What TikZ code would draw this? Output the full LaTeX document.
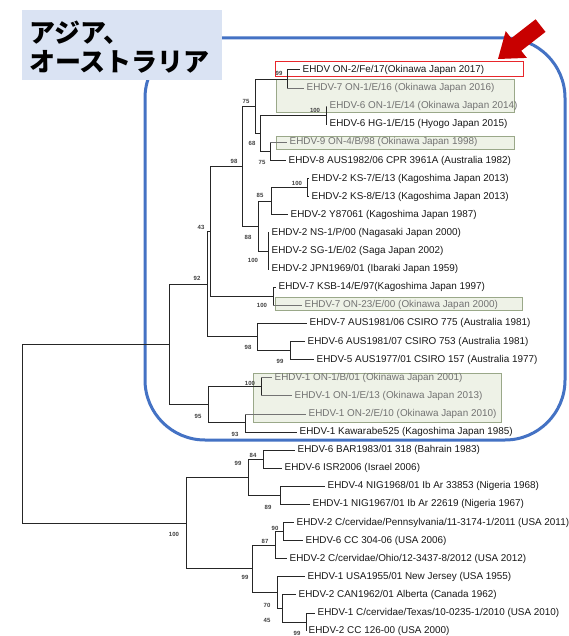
\documentclass[tikz,border=0pt]{standalone}
\usepackage{fontspec}
\setmainfont{Liberation Sans}
\newfontfamily\cjk{Noto Sans CJK JP}
\definecolor{bluel}{HTML}{4472C4}
\definecolor{lblue}{HTML}{DAE3F3}
\definecolor{gfill}{HTML}{EEF2E7}
\definecolor{gdraw}{HTML}{9AA889}
\definecolor{redbox}{HTML}{E8262B}
\definecolor{redarrow}{HTML}{C80000}
\begin{document}
\begin{tikzpicture}[x=1pt,y=-1pt,
  br/.style={draw=black!85, line width=1pt},
  brg/.style={draw=black!55, line width=0.7pt},
  leaf/.style={anchor=west, inner xsep=2.5pt, inner ysep=0pt, font=\fontsize{9.9}{10}\selectfont, text=black!90},
  leafg/.style={leaf, text=black!55},
  bs/.style={font=\fontsize{6}{6}\selectfont\bfseries, text=black!75, inner sep=0pt},
  gbox/.style={fill=gfill, draw=gdraw, line width=0.6pt},
  jp/.style={font=\cjk\bfseries\fontsize{26}{28}\selectfont, anchor=west, inner sep=0pt}]
\useasboundingbox (0,0) rectangle (569,636);
\fill[white] (0,0) rectangle (569,636);
% blue region
\draw[bluel, line width=3pt, rounded corners=60pt] (145,38) rectangle (565,440);
% title box
\fill[lblue] (22,10) rectangle (222,80);
\node[jp] (t1) at (29,33) {アジア、};
\node[jp] (t2) at (29,62) {オーストラリア};
% highlight boxes
\draw[gbox] (276,79) rectangle (514,112);
\draw[gbox] (276,136) rectangle (514,149);
\draw[gbox] (275,297) rectangle (522,310);
\draw[gbox] (253,373) rectangle (501,422);
\draw[redbox, line width=0.8pt] (275,61) rectangle (523,76);
% leaves
\node[leaf] (l0) at (300,70.0) {EHDV ON-2/Fe/17(Okinawa Japan 2017)};
\node[leafg] (l1) at (304,88.1) {EHDV-7 ON-1/E/16 (Okinawa Japan 2016)};
\node[leafg] (l2) at (327,106.2) {EHDV-6 ON-1/E/14 (Okinawa Japan 2014)};
\node[leaf] (l3) at (327,124.3) {EHDV-6 HG-1/E/15 (Hyogo Japan 2015)};
\node[leafg] (l4) at (287,142.4) {EHDV-9 ON-4/B/98 (Okinawa Japan 1998)};
\node[leaf] (l5) at (286,160.5) {EHDV-8 AUS1982/06 CPR 3961A (Australia 1982)};
\node[leaf] (l6) at (309,178.6) {EHDV-2 KS-7/E/13 (Kagoshima Japan 2013)};
\node[leaf] (l7) at (309,196.7) {EHDV-2 KS-8/E/13 (Kagoshima Japan 2013)};
\node[leaf] (l8) at (288,214.8) {EHDV-2 Y87061 (Kagoshima Japan 1987)};
\node[leaf] (l9) at (269,232.9) {EHDV-2 NS-1/P/00 (Nagasaki Japan 2000)};
\node[leaf] (l10) at (269,251.0) {EHDV-2 SG-1/E/02 (Saga Japan 2002)};
\node[leaf] (l11) at (269,269.1) {EHDV-2 JPN1969/01 (Ibaraki Japan 1959)};
\node[leaf] (l12) at (276,287.2) {EHDV-7 KSB-14/E/97(Kagoshima Japan 1997)};
\node[leafg] (l13) at (302,305.3) {EHDV-7 ON-23/E/00 (Okinawa Japan 2000)};
\node[leaf] (l14) at (307,323.4) {EHDV-7 AUS1981/06 CSIRO 775 (Australia 1981)};
\node[leaf] (l15) at (305,341.5) {EHDV-6 AUS1981/07 CSIRO 753 (Australia 1981)};
\node[leaf] (l16) at (314,359.6) {EHDV-5 AUS1977/01 CSIRO 157 (Australia 1977)};
\node[leafg] (l17) at (272,377.7) {EHDV-1 ON-1/B/01 (Okinawa Japan 2001)};
\node[leafg] (l18) at (292,395.8) {EHDV-1 ON-1/E/13 (Okinawa Japan 2013)};
\node[leafg] (l19) at (306,413.9) {EHDV-1 ON-2/E/10 (Okinawa Japan 2010)};
\node[leaf] (l20) at (297,432.0) {EHDV-1 Kawarabe525 (Kagoshima Japan 1985)};
\node[leaf] (l21) at (295,450.1) {EHDV-6 BAR1983/01 318 (Bahrain 1983)};
\node[leaf] (l22) at (282,468.2) {EHDV-6 ISR2006 (Israel 2006)};
\node[leaf] (l23) at (325,486.3) {EHDV-4 NIG1968/01 Ib Ar 33853 (Nigeria 1968)};
\node[leaf] (l24) at (310,504.4) {EHDV-1 NIG1967/01 Ib Ar 22619 (Nigeria 1967)};
\node[leaf] (l25) at (294,522.5) {EHDV-2 C/cervidae/Pennsylvania/11-3174-1/2011 (USA 2011)};
\node[leaf] (l26) at (303,540.6) {EHDV-6 CC 304-06 (USA 2006)};
\node[leaf] (l27) at (287,558.7) {EHDV-2 C/cervidae/Ohio/12-3437-8/2012 (USA 2012)};
\node[leaf] (l28) at (305,576.8) {EHDV-1 USA1955/01 New Jersey (USA 1955)};
\node[leaf] (l29) at (296,594.9) {EHDV-2 CAN1962/01 Alberta (Canada 1962)};
\node[leaf] (l30) at (315,613.0) {EHDV-1 C/cervidae/Texas/10-0235-1/2010 (USA 2010)};
\node[leaf] (l31) at (306,631.1) {EHDV-2 CC 126-00 (USA 2000)};
% internal nodes
\coordinate (A) at (287,79.05);
\coordinate (B) at (326,115.25);
\coordinate (C) at (270,151.45);
\coordinate (D) at (260,133.35);
\coordinate (E) at (255,106.2);
\coordinate (F) at (307,187.65);
\coordinate (G) at (271,201.2);
\coordinate (H) at (268,251.0);
\coordinate (I) at (258,226.1);
\coordinate (J) at (242,166.15);
\coordinate (K) at (273,296.25);
\coordinate (L) at (210,231.2);
\coordinate (M) at (290,350.55);
\coordinate (N) at (257,336.97);
\coordinate (O) at (207,284.1);
\coordinate (P) at (261,386.75);
\coordinate (Q) at (245,422.95);
\coordinate (R) at (208,404.85);
\coordinate (S) at (169,344.5);
\coordinate (T) at (263,459.15);
\coordinate (U) at (280,495.35);
\coordinate (V) at (248,477.25);
\coordinate (W) at (283,531.55);
\coordinate (X) at (275,545.1);
\coordinate (Y) at (306,622.05);
\coordinate (Z) at (282,608.5);
\coordinate (AA) at (277,592.65);
\coordinate (AB) at (252,568.9);
\coordinate (AC) at (186,523.1);
\coordinate (root) at (22,433.8);
% branches to black leaves
\foreach \p/\c in {A/l0, B/l3, C/l5, F/l6, F/l7, G/l8, H/l9, H/l10, H/l11, K/l12,
  N/l14, M/l15, M/l16, Q/l20, T/l21, T/l22, U/l23, U/l24, W/l25, W/l26, X/l27,
  AA/l28, Z/l29, Y/l30, Y/l31}
  \draw[br] (\p) |- (\c.west);
% branches to grey leaves
\foreach \p/\c in {A/l1, B/l2, C/l4, K/l13, P/l17, P/l18, Q/l19}{
  \draw[br] (\p) -- (\p |- \c.west);
  \draw[brg] (\p |- \c.west) -- (\c.west);
}
% branches between internal nodes
\foreach \p/\c in {E/A, E/D, D/B, D/C, J/E, J/I, I/G, I/H, G/F, L/J, L/K,
  O/L, O/N, N/M, S/O, S/R, R/P, R/Q, root/S, root/AC, AC/V, AC/AB, V/T, V/U,
  AB/X, AB/AA, X/W, AA/Z, Z/Y}
  \draw[br] (\p) |- (\c);
% bootstrap values
\node[bs] (bA) at (279,73) {99};
\node[bs] (bE) at (246,101) {75};
\node[bs] (bB) at (315,110) {100};
\node[bs] (bD) at (252,143) {68};
\node[bs] (bC) at (262,162) {75};
\node[bs] (bJ) at (234,161) {98};
\node[bs] (bF) at (297,183) {100};
\node[bs] (bG) at (260,195) {85};
\node[bs] (bI) at (248,237) {88};
\node[bs] (bH) at (253,260) {100};
\node[bs] (bL) at (201,227) {43};
\node[bs] (bK) at (262,305) {100};
\node[bs] (bO) at (197,278) {92};
\node[bs] (bN) at (248,347) {98};
\node[bs] (bM) at (280,361) {99};
\node[bs] (bP) at (250,383) {100};
\node[bs] (bR) at (198,416) {95};
\node[bs] (bQ) at (235,434) {93};
\node[bs] (bAC) at (174,534) {100};
\node[bs] (bT) at (253,455) {84};
\node[bs] (bV) at (238,463) {99};
\node[bs] (bU) at (268,507) {89};
\node[bs] (bW) at (275,528) {90};
\node[bs] (bX) at (265,541) {87};
\node[bs] (bAB) at (245,577) {99};
\node[bs] (bAA) at (267,605) {70};
\node[bs] (bZ) at (267,620) {45};
\node[bs] (bY) at (297,633) {99};
% red arrow
\fill[redarrow] (498,59) -- (526.9,57.9) -- (521.2,50.8) -- (545.5,31.9) -- (535.6,19.3) -- (511.3,38.2) -- (505.7,31.1) -- cycle;
\end{tikzpicture}
\end{document}
